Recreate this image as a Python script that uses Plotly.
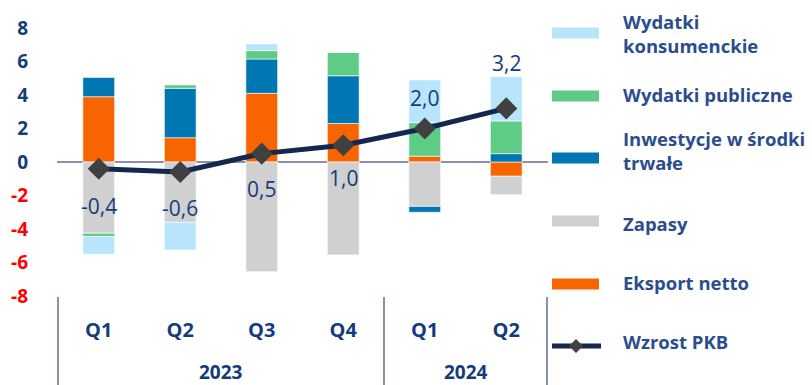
import plotly.graph_objects as go

# ---------------- data ----------------
quarters = ["Q1", "Q2", "Q3", "Q4", "Q1", "Q2"]
years = ["2023", "2023", "2023", "2023", "2024", "2024"]

eksport_netto = [3.9, 1.45, 4.1, 2.3, 0.35, -0.85]
zapasy = [-4.25, -3.6, -6.55, -5.55, -2.65, -1.1]
inwestycje = [1.15, 2.95, 2.05, 2.85, -0.35, 0.5]
wydatki_publiczne = [-0.2, 0.2, 0.5, 1.4, 2.0, 1.95]
wydatki_konsumenckie = [-1.05, -1.65, 0.4, 0.0, 2.55, 2.65]
wzrost_pkb = [-0.4, -0.6, 0.5, 1.0, 2.0, 3.2]

y_ticks = [-8, -6, -4, -2, 0, 2, 4, 6, 8]

# ---------------- style ----------------
C_KONS = "#b8e5fc"
C_PUBL = "#5ecb86"
C_INW = "#0077b2"
C_ZAP = "#d0d0d0"
C_EKS = "#f76400"
C_LINE = "#14284f"
C_MARK = "#404040"
C_TXT = "#143c7c"
C_LEG = "#2c4d8d"
C_AX = "#8a90ae"
FONT = "Open Sans"

x_keys = [f"{y} {q}" for y, q in zip(years, quarters)]

fig = go.Figure()
for name, vals, col in [
    ("Eksport netto", eksport_netto, C_EKS),
    ("Zapasy", zapasy, C_ZAP),
    ("Inwestycje w środki trwałe", inwestycje, C_INW),
    ("Wydatki publiczne", wydatki_publiczne, C_PUBL),
    ("Wydatki konsumenckie", wydatki_konsumenckie, C_KONS),
]:
    fig.add_trace(go.Bar(x=x_keys, y=vals, name=name, marker_color=col,
                         marker_line=dict(width=0.6, color="white"),
                         width=0.39, showlegend=False))

fig.add_trace(go.Scatter(x=x_keys, y=wzrost_pkb, mode="lines+markers",
                         name="Wzrost PKB",
                         line=dict(color=C_LINE, width=5),
                         marker=dict(symbol="diamond", size=17, color=C_MARK),
                         showlegend=False))

# data labels
label_shift = [-37, -36, -35, -33, 31, 45]
for xk, v, s in zip(x_keys, wzrost_pkb, label_shift):
    fig.add_annotation(x=xk, y=v, text=f"{v:.1f}".replace(".", ","),
                       showarrow=False, yshift=s,
                       font=dict(family=FONT, size=21, color=C_TXT))

# plot geometry (pixels)
W, H = 812, 385
L, R, T, B = 57, 548, 28, 296


def px(x):
    return (x - L) / (R - L)


def py(y):
    return (B - y) / (B - T)


# year labels + group dividers
uniq_years = list(dict.fromkeys(years))
bounds = [-0.5]
for yr in uniq_years:
    idx = [i for i, y in enumerate(years) if y == yr]
    centre = sum(idx) / len(idx)
    fig.add_annotation(x=centre, xref="x", y=py(372), yref="paper",
                       text=yr, showarrow=False, yanchor="middle",
                       font=dict(family=FONT, size=19, color=C_TXT, weight="bold"))
    bounds.append(max(idx) + 0.5)
for b in bounds:
    fig.add_shape(type="line", xref="x", yref="paper", x0=b, x1=b,
                  y0=py(297), y1=py(386), line=dict(color=C_AX, width=2))

# manual legend
legend_items = [
    ("Wydatki<br>konsumenckie", C_KONS, 33, 33),
    ("Wydatki publiczne", C_PUBL, 96, 94),
    ("Inwestycje w środki<br>trwałe", C_INW, 158, 150),
    ("Zapasy", C_ZAP, 221, 223),
    ("Eksport netto", C_EKS, 284, 282),
]
for text, col, sy, ty in legend_items:
    fig.add_shape(type="rect", xref="paper", yref="paper",
                  x0=px(552), x1=px(599), y0=py(sy - 5.5), y1=py(sy + 5.5),
                  fillcolor=col, line=dict(width=0))
    fig.add_annotation(xref="paper", yref="paper", x=px(621), y=py(ty),
                       xanchor="left", yanchor="middle", align="left",
                       text=text, showarrow=False,
                       font=dict(family=FONT, size=18.5, color=C_LEG, weight="bold"))
# PKB legend item
fig.add_shape(type="line", xref="paper", yref="paper", x0=px(552), x1=px(601),
              y0=py(346), y1=py(346), line=dict(color=C_LINE, width=5))
fig.add_shape(type="path", xref="paper", yref="paper",
              path=f"M {px(569)} {py(346)} L {px(576)} {py(339)} L {px(583)} {py(346)} L {px(576)} {py(353)} Z",
              fillcolor=C_MARK, line=dict(width=0))
fig.add_annotation(xref="paper", yref="paper", x=px(621), y=py(341),
                   xanchor="left", yanchor="middle", text="Wzrost PKB",
                   showarrow=False,
                   font=dict(family=FONT, size=18.5, color=C_LEG, weight="bold"))

ticktext = [f"<span style='color:#ff0000'>{t}</span>" if t < 0 else str(t)
            for t in y_ticks]

fig.update_layout(
    width=W, height=H,
    margin=dict(l=L, r=W - R, t=T, b=H - B, pad=0),
    paper_bgcolor="white", plot_bgcolor="white",
    barmode="relative", bargap=0.61,
    font=dict(family=FONT, color=C_TXT),
    xaxis=dict(type="category", tickvals=x_keys, ticktext=quarters,
               showgrid=False, showline=False, zeroline=False, ticks="",
               ticklabelstandoff=20,
               tickfont=dict(family=FONT, size=20, color=C_TXT, weight="bold")),
    yaxis=dict(range=[-8, 8], tickvals=y_ticks, ticktext=ticktext,
               showgrid=False, showline=False, zeroline=True,
               zerolinecolor=C_AX, zerolinewidth=2, ticks="",
               ticklabelstandoff=28,
               tickfont=dict(family=FONT, size=19, color=C_TXT, weight="bold")),
)

fig.write_html("out.html", config={"displayModeBar": False},
               post_script="document.body.style.margin='0';document.body.style.padding='0';")
